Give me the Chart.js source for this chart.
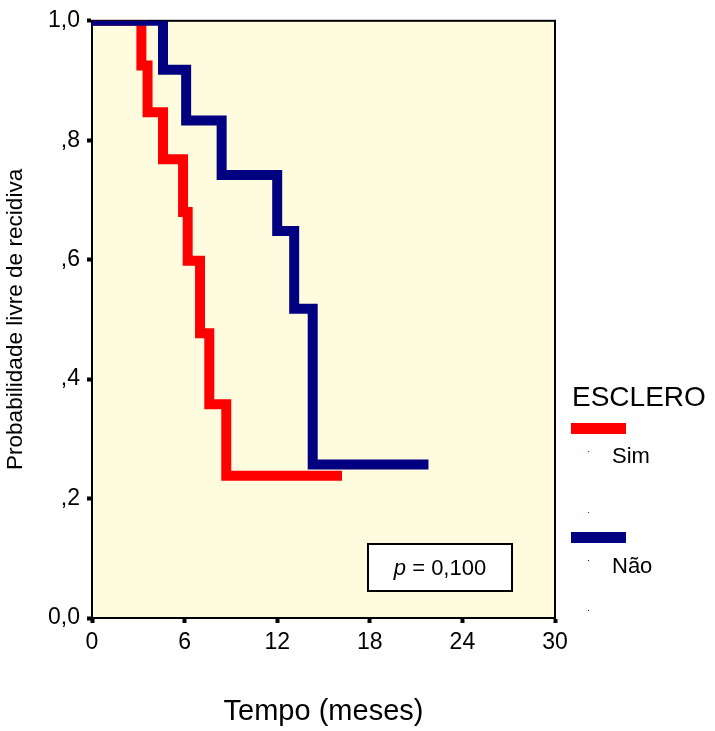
<!DOCTYPE html>
<html>
<head>
<meta charset="utf-8">
<title>Probabilidade livre de recidiva</title>
<script src="https://cdn.jsdelivr.net/npm/chart.js@4.4.0/dist/chart.umd.min.js"></script>
<style>
  html, body { margin: 0; padding: 0; background: #ffffff; }
  canvas { display: block; }
</style>
</head>
<body>
<canvas id="grafico" width="715" height="731"></canvas>
<script>
// dados (Kaplan-Meier)
const tempoSim = [0, 3.2, 3.6, 4.6, 5.9, 6.2, 7.0, 7.6, 8.7, 16.2];
const probSim = [1, 0.925, 0.847, 0.768, 0.68, 0.598, 0.477, 0.358, 0.238, 0.238];
const tempoNao = [0, 4.6, 6.1, 8.4, 12.0, 13.1, 14.3, 21.8];
const probNao = [1, 0.918, 0.833, 0.742, 0.648, 0.518, 0.257, 0.257];
const xTicks = [0, 6, 12, 18, 24, 30];
const yTickLabels = ["0,0", ",2", ",4", ",6", ",8", "1,0"];
const grupos = ["Sim", "Não"];
const pValor = "0,100";

const FONTE = "'Liberation Sans', Arial, sans-serif";

function pontos(tempos, probs) {
  let lista = [];
  for (let i = 0; i < tempos.length; i++) {
    lista.push({ x: tempos[i], y: probs[i] });
  }
  return lista;
}

const extras = {
  id: "extras",
  beforeDraw(chart) {
    const { ctx, chartArea: a } = chart;
    ctx.save();
    ctx.fillStyle = "#fffbde";
    ctx.fillRect(a.left, a.top, a.right - a.left, a.bottom - a.top);
    ctx.restore();
  },
  beforeDatasetsDraw(chart) {
    const { ctx, chartArea: a } = chart;
    ctx.save();
    ctx.strokeStyle = "#000";
    ctx.lineWidth = 2;
    ctx.strokeRect(a.left, a.top, a.right - a.left, a.bottom - a.top);
    ctx.restore();
  },
  afterDraw(chart) {
    const ctx = chart.ctx;
    ctx.save();
    // caixa do p
    ctx.fillStyle = "#fff";
    ctx.fillRect(368, 544, 144, 47);
    ctx.strokeStyle = "#000";
    ctx.lineWidth = 2;
    ctx.strokeRect(368, 544, 144, 47);
    ctx.fillStyle = "#000";
    ctx.textBaseline = "alphabetic";
    ctx.font = "italic 22px " + FONTE;
    const wp = ctx.measureText("p").width;
    ctx.font = "22px " + FONTE;
    const resto = " = " + pValor;
    const wr = ctx.measureText(resto).width;
    const x0 = 440 - (wp + wr) / 2;
    ctx.font = "italic 22px " + FONTE;
    ctx.fillText("p", x0, 575);
    ctx.font = "22px " + FONTE;
    ctx.fillText(resto, x0 + wp, 575);

    // legenda
    ctx.font = "28px " + FONTE;
    ctx.fillText("ESCLERO", 572, 406);
    ctx.fillStyle = "#ff0000";
    ctx.fillRect(571, 423, 55, 11);
    ctx.fillStyle = "#000080";
    ctx.fillRect(571, 532, 55, 11);
    ctx.fillStyle = "#000";
    ctx.font = "22px " + FONTE;
    ctx.fillText(grupos[0], 612, 463);
    ctx.fillText(grupos[1], 612, 573);
    ctx.fillStyle = "#ff0000";
    ctx.fillRect(588, 451, 1, 1);
    ctx.fillRect(588, 512, 1, 1);
    ctx.fillStyle = "#000080";
    ctx.fillRect(588, 560, 1, 1);
    ctx.fillRect(588, 610, 1, 1);
    ctx.restore();
  }
};

const config = {
  type: "line",
  data: {
    datasets: [
      {
        label: grupos[1],
        data: pontos(tempoNao, probNao),
        borderColor: "#000080",
        borderWidth: 10,
        stepped: true,
        pointRadius: 0,
        borderCapStyle: "butt",
        borderJoinStyle: "miter",
        fill: false
      },
      {
        label: grupos[0],
        data: pontos(tempoSim, probSim),
        borderColor: "#ff0000",
        borderWidth: 10,
        stepped: true,
        pointRadius: 0,
        borderCapStyle: "butt",
        borderJoinStyle: "miter",
        fill: false
      }
    ]
  },
  options: {
    responsive: false,
    animation: false,
    devicePixelRatio: 1,
    layout: { padding: { left: 0, top: 18, right: 160, bottom: 0 } },
    plugins: {
      legend: { display: false },
      tooltip: { enabled: false }
    },
    scales: {
      x: {
        type: "linear",
        min: 0,
        max: 30,
        afterBuildTicks: (scale) => {
          scale.ticks = xTicks.map((v) => ({ value: v }));
        },
        afterFit: (scale) => { scale.height = 113; },
        ticks: {
          color: "#000",
          font: { family: FONTE, size: 23 },
          padding: 6,
          maxRotation: 0,
          callback: (v) => String(v)
        },
        grid: {
          drawOnChartArea: false,
          drawTicks: true,
          tickLength: 5,
          tickWidth: 4,
          tickColor: "#000"
        },
        border: { display: true, color: "#000", width: 2 },
        title: {
          display: true,
          text: "Tempo (meses)",
          color: "#000",
          font: { family: FONTE, size: 29 },
          padding: { top: 0, bottom: 2 }
        }
      },
      y: {
        min: 0,
        max: 1,
        afterFit: (scale) => { scale.width = 92; },
        ticks: {
          stepSize: 0.2,
          color: "#000",
          font: { family: FONTE, size: 23 },
          padding: 7,
          callback: (v, i) => yTickLabels[i]
        },
        grid: {
          drawOnChartArea: false,
          drawTicks: true,
          tickLength: 5,
          tickWidth: 4,
          tickColor: "#000"
        },
        border: { display: true, color: "#000", width: 2 },
        title: {
          display: true,
          text: "Probabilidade livre de recidiva",
          color: "#000",
          font: { family: FONTE, size: 22.6 },
          padding: { top: 2, bottom: 0 }
        }
      }
    }
  },
  plugins: [extras]
};

new Chart(document.getElementById("grafico"), config);
</script>
</body>
</html>
